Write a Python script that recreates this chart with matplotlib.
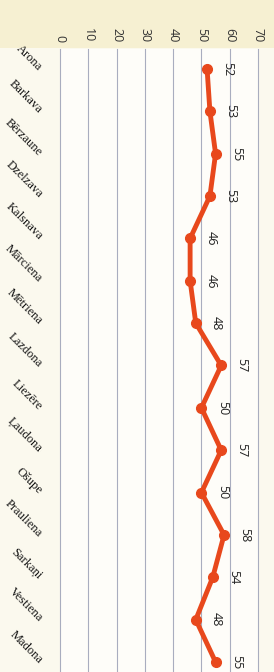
import matplotlib
matplotlib.use("Agg")
import matplotlib.pyplot as plt

categories = ["Arona", "Barkava", "Bērzaune", "Dzelzava", "Kalsnava", "Mārciena",
              "Mētriena", "Lazdona", "Liezēre", "Ļaudona", "Ošupe", "Prauliena",
              "Sarkaņi", "Vestiena", "Madona"]
values = [52, 53, 55, 53, 46, 46, 48, 57, 50, 57, 50, 58, 54, 48, 55]
value_ticks = [0, 10, 20, 30, 40, 50, 60, 70]

W, H = 274, 672
fig = plt.figure(figsize=(W / 100, H / 100), dpi=100)
fig.patch.set_facecolor("#FBF9EE")

# background band at top (separate axes behind everything)
bg = fig.add_axes([0, 1 - 48 / H, 1, 48 / H], zorder=-5)
bg.set_facecolor("#F6F0D2")
bg.set_axis_off()
bg.add_patch(plt.Rectangle((0, 0), 1, 1, transform=bg.transAxes,
                           facecolor="#F6F0D2", edgecolor="none"))

left, right, top, bottom = 60, 258, 49, 672
ax = fig.add_axes([left / W, 1 - bottom / H, (right - left) / W, (bottom - top) / H], zorder=1)
ax.set_facecolor("#FEFDF9")

pos = list(range(len(categories)))
ax.plot(values, pos, color="#E8481C", lw=3.5, marker="o", ms=7, mfc="#E8481C",
        mec="#E8481C", solid_joinstyle="round", zorder=3)

for v, p in zip(values, pos):
    ax.annotate(str(v), (v, p), xytext=(15, 0), textcoords="offset points",
                rotation=-90, ha="center", va="center", fontsize=9,
                family="Open Sans", color="#222222")

ax.set_xlim(0, 70)
ax.set_ylim(14 + 10 / 42.36, -20 / 42.36)
for t in value_ticks:
    ax.axvline(t, color="#A9ADBF", lw=0.8, zorder=1, clip_on=False)

for s in ax.spines.values():
    s.set_visible(False)

ax.xaxis.tick_top()
ax.set_xticks(value_ticks)
ax.set_xticklabels([str(t) for t in value_ticks], rotation=-90, fontsize=9,
                   family="Open Sans", color="#333333")
ax.tick_params(axis="x", length=0, pad=5)

ax.set_yticks(pos)
ax.set_yticklabels(categories, rotation=-45, fontsize=9, family="Liberation Serif",
                   ha="right", va="center", rotation_mode="anchor", color="#111111")
ax.tick_params(axis="y", length=0, pad=14)

fig.savefig("out.png", dpi=100, facecolor=fig.get_facecolor())
